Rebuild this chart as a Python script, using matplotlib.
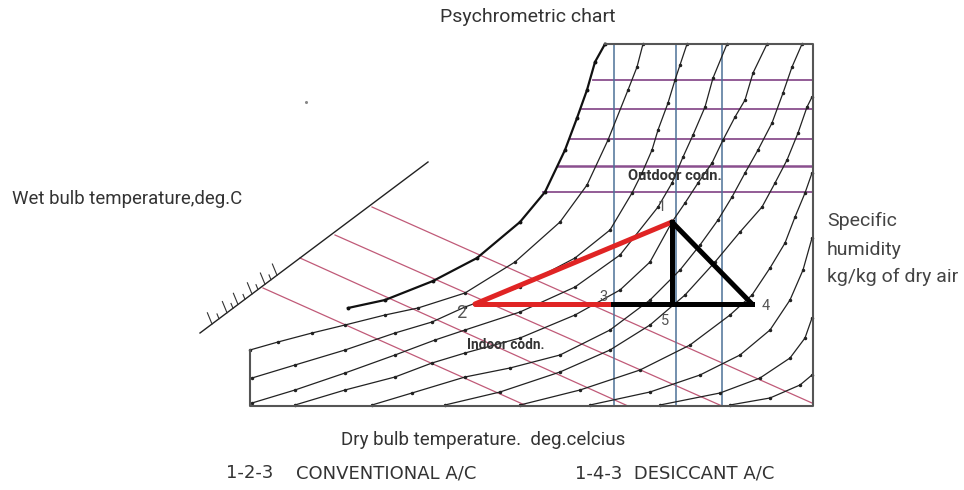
import matplotlib
matplotlib.use("Agg")
import matplotlib.pyplot as plt

# ---------------- data (pixel units) ----------------
# chart frame
frame_x = [605, 813, 813, 250, 250]
frame_y = [44, 44, 406, 406, 350]

# dry-bulb (vertical) lines
dry_bulb_x = [614, 676, 722]
# specific humidity (horizontal) lines: y and left start
sh_y = [80, 109, 139, 166, 192]
sh_x0 = [593, 582, 570, 558, 543]
sh_x1 = 812

# wet bulb scale line and wet bulb (pink) lines
wb_scale_x = [200, 428]
wb_scale_y = [333, 162]
wb_tick_x = [212, 219, 227, 233, 238, 245, 252, 258, 265, 271, 277]
wb_tick_len = [14, 6, 14, 6, 14, 6, 14, 6, 14, 6, 14]
wb_start_x = [372, 335, 300, 263]
wb_start_y = [207, 235, 258, 288]
wb_end_x = [812, 722, 628, 527]
wb_end_y = [403, 406, 406, 406]

# relative humidity curves (anchor points)
sat_x = [348, 385, 433, 477, 520, 545, 565, 577, 587, 595, 605]
sat_y = [308, 300, 281, 258, 222, 192, 150, 118, 90, 62, 44]
rh1_x = [250, 278, 312, 345, 385, 418, 465, 515, 560, 587, 608, 628, 637, 643]
rh1_y = [350, 342, 333, 325, 315, 308, 293, 262, 222, 185, 140, 90, 67, 44]
rh2_x = [252, 295, 345, 395, 432, 465, 520, 575, 610, 632, 642, 652, 658, 668, 675, 680, 687]
rh2_y = [378, 365, 350, 333, 322, 307, 287, 258, 230, 193, 173, 150, 130, 103, 80, 65, 44]
rh3_x = [252, 295, 345, 395, 435, 465, 520, 575, 620, 658, 672, 683, 693, 705, 713, 727]
rh3_y = [403, 390, 373, 355, 340, 330, 312, 287, 255, 207, 183, 157, 135, 107, 78, 44]
rh4_x = [295, 345, 395, 432, 465, 520, 575, 620, 650, 672, 685, 698, 712, 723, 735, 745, 753, 767]
rh4_y = [405, 390, 377, 363, 353, 338, 315, 290, 262, 222, 203, 183, 163, 140, 117, 100, 73, 44]
rh5_x = [372, 412, 465, 510, 560, 610, 650, 680, 700, 718, 732, 745, 758, 772, 783, 792, 802]
rh5_y = [405, 393, 377, 368, 355, 330, 300, 270, 245, 220, 197, 173, 150, 123, 93, 67, 44]
rh6_x = [445, 500, 560, 610, 650, 685, 715, 740, 762, 775, 787, 798, 807, 812]
rh6_y = [405, 392, 372, 350, 325, 295, 262, 232, 207, 183, 160, 133, 107, 97]
rh7_x = [520, 580, 640, 690, 730, 752, 770, 785, 795, 805, 812]
rh7_y = [405, 390, 370, 345, 315, 295, 268, 243, 217, 193, 173]
rh8_x = [590, 650, 700, 740, 770, 790, 803, 812]
rh8_y = [405, 392, 375, 355, 330, 300, 270, 238]
rh9_x = [660, 720, 760, 790, 805, 812]
rh9_y = [405, 393, 378, 358, 338, 318]
rh10_x = [730, 770, 800, 812]
rh10_y = [405, 398, 385, 375]

# process states 1..5
state_x = [672, 475, 613, 752, 672]
state_y = [222, 304, 304, 304, 304]
state_labels = ["1", "2", "3", "4", "5"]
label_x = [662, 461, 604, 766, 665]
label_y = [207, 313, 297, 306, 321]

# footer legend pieces and their centres
legend_words = ["1-2-3", "CONVENTIONAL A/C", "1-4-3  DESICCANT A/C"]
legend_cx = [250, 386, 675]

# ---------------- figure ----------------
fig = plt.figure(figsize=(9.64, 4.90), dpi=100)
ax = fig.add_axes([0, 0, 1, 1])
ax.set_xlim(0, 964)
ax.set_ylim(490, 0)
ax.axis("off")

narrow = ["Roboto", "DejaVu Sans"]

# wet bulb lines
pink = "#c05a78"
for x0, y0, x1, y1 in zip(wb_start_x, wb_start_y, wb_end_x, wb_end_y):
    ax.plot([x0, x1], [y0, y1], color=pink, lw=0.9, zorder=2)

# specific humidity lines
for y, x0 in zip(sh_y, sh_x0):
    ax.plot([x0, sh_x1], [y, y], color="#8a4f8e", lw=1.3 if y != 166 else 1.8, zorder=2)

# dry bulb lines
for x in dry_bulb_x:
    ax.plot([x, x], [44, 406], color="#4d7297", lw=1.1, zorder=2)

# RH curves
curves = [(rh1_x, rh1_y), (rh2_x, rh2_y), (rh3_x, rh3_y), (rh4_x, rh4_y),
          (rh5_x, rh5_y), (rh6_x, rh6_y), (rh7_x, rh7_y), (rh8_x, rh8_y),
          (rh9_x, rh9_y), (rh10_x, rh10_y)]
for cx, cy in curves:
    ax.plot(cx, cy, color="#222222", lw=0.9, marker="o", ms=1.5, zorder=3)
ax.plot(sat_x, sat_y, color="#111111", lw=1.6, marker="o", ms=1.8, zorder=3)

# wet bulb scale line with ticks (perpendicular, on the upper-left side)
ax.plot(wb_scale_x, wb_scale_y, color="#222222", lw=1.0, zorder=3)
dx = wb_scale_x[1] - wb_scale_x[0]
dy = wb_scale_y[1] - wb_scale_y[0]
norm = (dx * dx + dy * dy) ** 0.5
px, py = dy / norm, -dx / norm   # perpendicular direction
px, py = (px, py) if py < 0 else (-px, -py)
for tx, L in zip(wb_tick_x, wb_tick_len):
    ty = wb_scale_y[0] + dy / dx * (tx - wb_scale_x[0])
    ax.plot([tx, tx + 0.55 * px * L], [ty, ty + py * L], color="#333333", lw=0.8, zorder=3)
ax.plot([306], [102], marker="o", ms=1.2, color="#888888")

# frame
ax.plot(frame_x, frame_y, color="#555555", lw=1.5, zorder=4)

# process lines
red = "#e02424"
ax.plot([state_x[1], state_x[0]], [state_y[1], state_y[0]], color=red, lw=3.6,
        solid_capstyle="round", zorder=5)
ax.plot([state_x[1], state_x[2]], [state_y[1], state_y[2]], color=red, lw=3.6,
        solid_capstyle="round", zorder=5)
ax.plot([state_x[2], state_x[3]], [state_y[2], state_y[3]], color="black", lw=3.6, zorder=5)
ax.plot([state_x[0], state_x[4]], [state_y[0], state_y[4]], color="black", lw=3.6, zorder=5)
ax.plot([state_x[0], state_x[3]], [state_y[0], state_y[3]], color="black", lw=3.6,
        solid_capstyle="round", zorder=5)

for s, lx, ly in zip(state_labels, label_x, label_y):
    ax.text(lx, ly, s, fontsize=13 if s == "2" else 10.5, color="#555555",
            ha="center", va="center", family=narrow, zorder=6)

# texts
ax.text(528, 17, "Psychrometric chart", fontsize=14, color="#333333",
        ha="center", va="center", family=narrow)
ax.text(12, 199, "Wet bulb temperature,deg.C", fontsize=13.4, color="#333333",
        ha="left", va="center", family=narrow)
ax.text(827, 221, "Specific", fontsize=14, color="#444444", ha="left", va="center", family=narrow)
ax.text(827, 250, "humidity", fontsize=14, color="#444444", ha="left", va="center", family=narrow)
ax.text(827, 277, "kg/kg of dry air", fontsize=14, color="#444444", ha="left", va="center", family=narrow)
ax.text(483, 440, "Dry bulb temperature.  deg.celcius", fontsize=13.5, color="#333333",
        ha="center", va="center", family=narrow)
ax.text(675, 176, "Outdoor codn.", fontsize=10.5, color="#333333", ha="center", va="center",
        family=narrow, fontweight="bold", zorder=6)
ax.text(506, 345, "Indoor codn.", fontsize=9.8, color="#333333", ha="center", va="center",
        family=narrow, fontweight="bold", zorder=6)
for w, cx in zip(legend_words, legend_cx):
    ax.text(cx, 478, w, fontsize=13, color="#333333", ha="center", va="baseline",
            family=["DejaVu Sans"])

fig.savefig("out.png", dpi=100)
